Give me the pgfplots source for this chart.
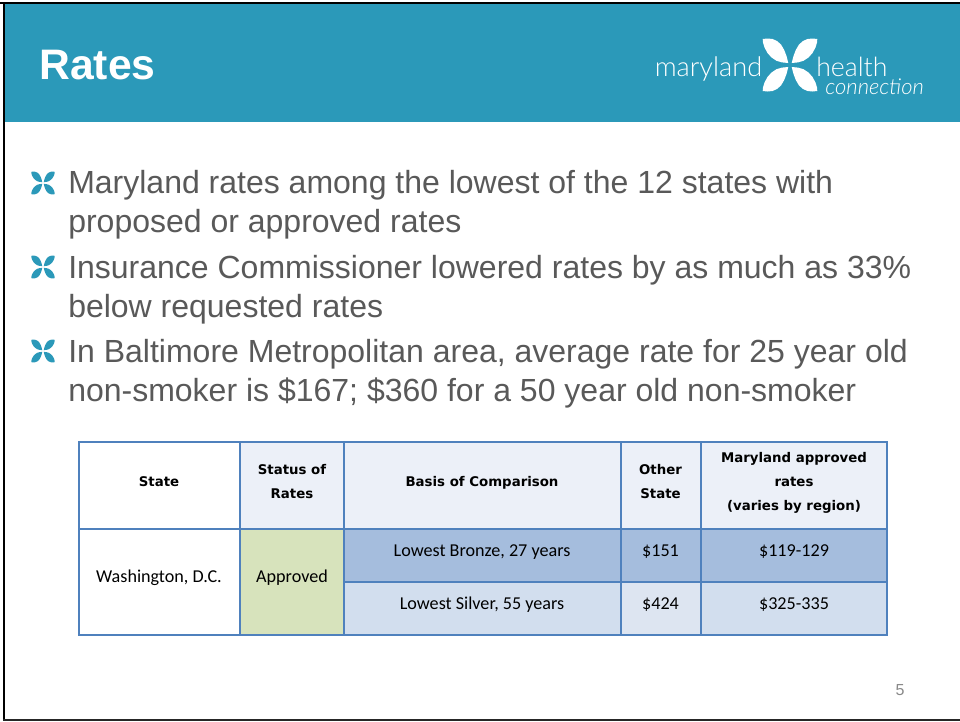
\documentclass[border=0pt]{standalone}
\usepackage{pgfplots}
\usepackage{pgfplotstable}
\usepackage{fontspec}
\pgfplotsset{compat=1.18}
\setmainfont{Liberation Sans}
\newfontfamily\bodyfont{Carlito}
\newfontfamily\headfont{DejaVu Sans}
\newfontfamily\logofont{Lato Light}
\definecolor{teal1}{RGB}{43,153,185}
\definecolor{bodygray}{RGB}{89,89,89}
\definecolor{pagegray}{RGB}{137,137,137}
\definecolor{tabline}{RGB}{79,129,189}
\definecolor{headfill}{RGB}{236,240,248}
\definecolor{rowone}{RGB}{165,189,221}
\definecolor{rowtwo}{RGB}{210,222,238}
\definecolor{rowtwob}{RGB}{221,229,241}
\definecolor{okfill}{RGB}{215,227,188}

% one petal of the logo, top left, px from the flower centre
\pgfplotstableread{
x y
-27.3 -26
-22.5 -26.5
-17.5 -26
-13 -24
-9 -20.5
-5.8 -15
-3.5 -9
-1.7 -2
-8 -2.6
-13.5 -4.2
-18.5 -7.5
-22.5 -12
-25.5 -17.5
-27 -22.5
}\petal

% everything is in reference pixels
\newcommand{\cell}[5]{\addplot[fill=#5,draw=none] coordinates {(#1,#2)(#3,#2)(#3,#4)(#1,#4)} --cycle;}
\newcommand{\hrul}[3]{\addplot[tabline,line width=1.2pt,line cap=rect] coordinates {(#1,#3)(#2,#3)};}
\newcommand{\vrul}[4]{%
  \addplot[tabline,line width=0.8pt] coordinates {(#1,#2)(#1,#4)};
  \addplot[tabline,line width=1.4pt] coordinates {(#1,#3)(#1,#4)};}
\newcommand{\onepetal}[6]{\addplot[fill=#6,draw=none] table[x expr={#1+#4*#3*\thisrow{x}},y expr={#2+#5*#3*\thisrow{y}}] {\petal} --cycle;}
\newcommand{\flower}[4]{%
  \onepetal{#1}{#2}{#3}{1}{1}{#4}
  \onepetal{#1}{#2}{#3}{-1}{1}{#4}
  \onepetal{#1}{#2}{#3}{1}{-1}{#4}
  \onepetal{#1}{#2}{#3}{-1}{-1}{#4}}
\newcommand{\txt}[4]{\node[anchor=base west,inner sep=0pt,text=#4] at (axis cs:#1,#2) {\fontsize{24pt}{24pt}\selectfont #3};}
\newcommand{\bhead}[3]{\node[anchor=base,inner sep=0pt] at (axis cs:#1,#2) {\headfont\bfseries\fontsize{10pt}{10pt}\selectfont #3};}
\newcommand{\btxt}[3]{\node[anchor=base,inner sep=0pt] at (axis cs:#1,#2) {\bodyfont\fontsize{13.6pt}{13.6pt}\selectfont #3};}

\begin{document}
\begin{tikzpicture}
\begin{axis}[
  hide axis, scale only axis, width=720pt, height=540.75pt,
  xmin=0, xmax=960, ymin=0, ymax=721, y dir=reverse,
  no markers,
]
% slide
\cell{0}{0}{960}{721}{white}
\cell{5}{4}{960}{122}{teal1}
\cell{0}{2}{960}{4}{black}
\cell{3}{2}{5}{721}{black}
\cell{3}{719}{960}{721}{black!85}

% header
\node[anchor=base west,inner sep=0pt,text=white] at (axis cs:39,79) {\bfseries\fontsize{32pt}{32pt}\selectfont Rates};
\flower{790}{65}{1}{white}
\node[anchor=base west,inner sep=0pt,text=white] at (axis cs:654.5,76) {\logofont\fontsize{20.4pt}{20.4pt}\selectfont maryland};
\node[anchor=base west,inner sep=0pt,text=white] at (axis cs:816,76) {\logofont\fontsize{20pt}{20pt}\selectfont health};
\node[anchor=base west,inner sep=0pt,text=white] at (axis cs:825,94.5) {\logofont\itshape\fontsize{16.5pt}{16.5pt}\selectfont connection};

% bullets
\flower{43}{183}{0.43}{teal1}
\flower{43}{267}{0.43}{teal1}
\flower{43}{351}{0.43}{teal1}
\txt{68}{193}{Maryland rates among the lowest of the 12 states with}{bodygray}
\txt{68}{232}{proposed or approved rates}{bodygray}
\txt{68}{278}{Insurance Commissioner lowered rates by as much as 33\%}{bodygray}
\txt{68}{317}{below requested rates}{bodygray}
\txt{68}{362}{In Baltimore Metropolitan area, average rate for 25 year old}{bodygray}
\txt{68}{401}{non-smoker is \$167; \$360 for a 50 year old non-smoker}{bodygray}

% table fills
\cell{240}{442}{344}{529}{headfill}
\cell{344}{442}{887}{529}{headfill}
\cell{240}{529}{344}{635}{okfill}
\cell{344}{529}{887}{582}{rowone}
\cell{344}{582}{887}{635}{rowtwo}
\cell{621}{582}{701}{635}{rowtwob}

% table rules
\hrul{79}{887}{442}
\hrul{79}{887}{529}
\hrul{344}{887}{582}
\hrul{79}{887}{635}
\vrul{79}{442}{450}{529}
\vrul{240}{442}{450}{529}
\vrul{344}{442}{450}{529}
\vrul{621}{442}{450}{529}
\vrul{701}{442}{450}{529}
\vrul{887}{442}{450}{529}
\vrul{79}{529}{537}{635}
\vrul{240}{529}{537}{635}
\vrul{344}{529}{537}{582}
\vrul{621}{529}{537}{582}
\vrul{701}{529}{537}{582}
\vrul{887}{529}{537}{582}
\vrul{344}{582}{590}{635}
\vrul{621}{582}{590}{635}
\vrul{701}{582}{590}{635}
\vrul{887}{582}{590}{635}

% table text
\bhead{159}{486.5}{State}
\bhead{292}{474}{Status of}
\bhead{292}{498}{Rates}
\bhead{482}{486.5}{Basis of Comparison}
\bhead{660.5}{474}{Other}
\bhead{660.5}{498}{State}
\bhead{794}{462}{Maryland approved}
\bhead{794}{486.5}{rates}
\bhead{794}{510.5}{(varies by region)}
\btxt{159}{582.7}{Washington, D.C.}
\btxt{292}{582.7}{Approved}
\btxt{482}{556.4}{Lowest Bronze, 27 years}
\btxt{482}{609.6}{Lowest Silver, 55 years}
\btxt{660.5}{556.4}{\$151}
\btxt{660.5}{609.6}{\$424}
\btxt{794}{556.4}{\$119-129}
\btxt{794}{609.6}{\$325-335}

% page number
\node[anchor=base,inner sep=0pt,text=pagegray] at (axis cs:900,695.5) {\fontsize{12pt}{12pt}\selectfont 5};
\end{axis}
\end{tikzpicture}
\end{document}
